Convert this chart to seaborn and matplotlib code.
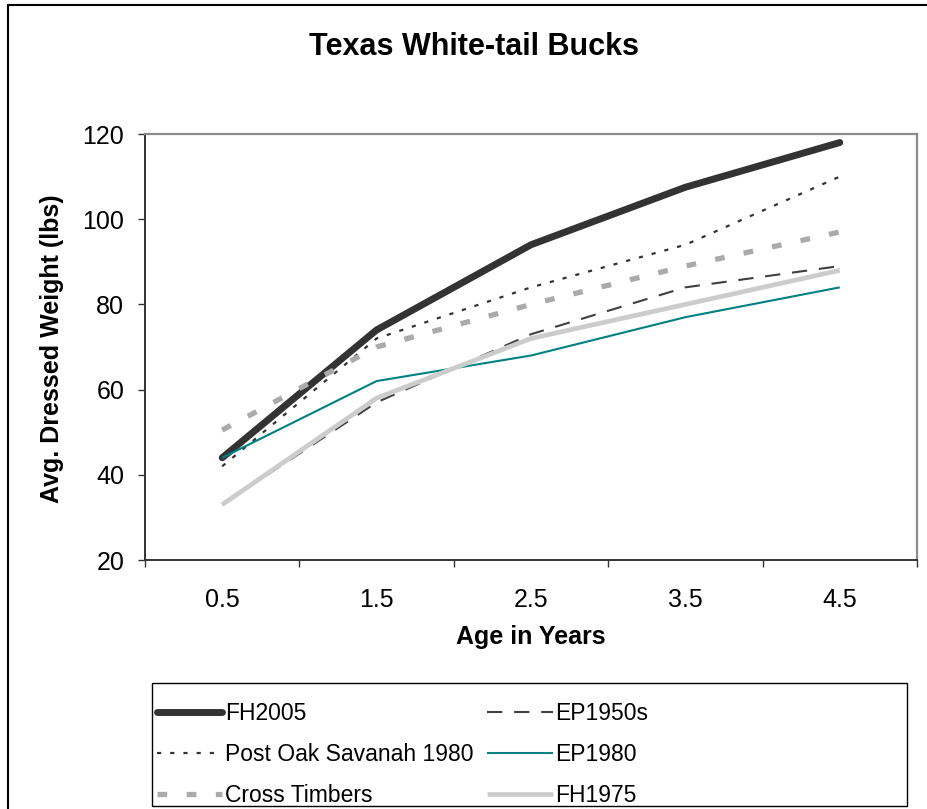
import matplotlib
matplotlib.use("Agg")
import matplotlib.pyplot as plt
import seaborn as sns
import numpy as np
from matplotlib.patches import Rectangle
from matplotlib.lines import Line2D

# ---- data ----
ages = [0.5, 1.5, 2.5, 3.5, 4.5]
age_labels = ["0.5", "1.5", "2.5", "3.5", "4.5"]
fh2005 = [44, 74, 94, 107.5, 118]
post_oak_1980 = [42, 72, 84, 94, 110]
cross_timbers = [50.5, 70, 80, 89, 97]
ep1950s = [33, 57, 73, 84, 89]
ep1980 = [44, 62, 68, 77, 84]
fh1975 = [33, 58, 72, 80, 88]
series_names = ["FH2005", "Post Oak Savanah 1980", "Cross Timbers",
                "EP1950s", "EP1980", "FH1975"]
series_values = [fh2005, post_oak_1980, cross_timbers, ep1950s, ep1980, fh1975]

# ---- styles ----
styles = {
    "FH2005": dict(color="#333333", lw=5.0, dashes=None, cap="round"),
    "Post Oak Savanah 1980": dict(color="#333333", lw=1.6, dashes=(3.0, 6.5), cap="butt"),
    "Cross Timbers": dict(color="#aaaaaa", lw=3.8, dashes=(7.0, 14.0), cap="butt"),
    "EP1950s": dict(color="#404040", lw=1.5, dashes=(11.0, 8.5), cap="butt"),
    "EP1980": dict(color="#008080", lw=1.5, dashes=None, cap="butt"),
    "FH1975": dict(color="#cccccc", lw=3.4, dashes=None, cap="butt"),
}

sns.set_style("white")
plt.rcParams["font.family"] = ["Liberation Sans", "DejaVu Sans"]
plt.rcParams["lines.scale_dashes"] = False
plt.rcParams["text.color"] = "black"
plt.rcParams["axes.labelcolor"] = "black"
plt.rcParams["xtick.color"] = "black"
plt.rcParams["ytick.color"] = "black"

W, H = 928, 809
fig = plt.figure(figsize=(W / 100, H / 100), dpi=100)
L, R, T, B = 145, 917, 134, 560
ax = fig.add_axes([L / W, 1 - B / H, (R - L) / W, (B - T) / H])

handles = []
for i, (name, vals) in enumerate(zip(series_names, series_values)):
    st = styles[name]
    sns.lineplot(x=ages, y=vals, ax=ax, color=st["color"], linewidth=st["lw"],
                 zorder=2 + i, solid_capstyle=st["cap"], dash_capstyle="butt",
                 solid_joinstyle="round")
    line = ax.get_lines()[-1]
    if st["dashes"] is not None:
        line.set_dashes(st["dashes"])
    h = Line2D([], [], color=st["color"], linewidth=st["lw"],
               solid_capstyle=st["cap"], dash_capstyle="butt")
    if st["dashes"] is not None:
        h.set_dashes(st["dashes"])
    handles.append(h)

ax.set_xlim(0, 5)
ax.set_ylim(20, 120)
ax.set_yticks([20, 40, 60, 80, 100, 120])
ax.set_xticks(ages)
ax.set_xticklabels(age_labels)
ax.set_xticks(np.arange(0, 6, 1), minor=True)
ax.tick_params(axis="x", which="major", length=0, pad=20, labelsize=18, labelcolor="black")
ax.tick_params(axis="x", which="minor", length=5, width=1.0, direction="out",
               color="#333333", bottom=True)
ax.tick_params(axis="y", which="major", length=5, width=1.0, direction="out",
               pad=10, labelsize=18, color="#333333", left=True, labelcolor="black")

for s in ["top", "right"]:
    ax.spines[s].set_color("#8c8c8c")
    ax.spines[s].set_linewidth(1.6)
for s in ["left", "bottom"]:
    ax.spines[s].set_color("#333333")
    ax.spines[s].set_linewidth(1.4)

ax.set_xlabel("Age in Years", fontsize=18, fontweight="bold", color="black")
ax.set_ylabel("Avg. Dressed Weight (lbs)", fontsize=18, fontweight="bold", color="black")
ax.xaxis.label.set_va("center")
ax.yaxis.label.set_va("center")
ax.xaxis.set_label_coords(0.5, (B - 637) / (B - T))
ax.yaxis.set_label_coords((52 - L) / (R - L), (B - 349) / (B - T))

fig.text(474 / W, 1 - 47 / H, "Texas White-tail Bucks", ha="center", va="center",
         fontsize=22, fontweight="bold", color="black")

# legend box
fig.patches.append(Rectangle((152 / W, 1 - 806 / H), (907 - 152) / W, (806 - 683) / H,
                             transform=fig.transFigure, facecolor="white",
                             edgecolor="black", linewidth=1.0, zorder=0))
leg = fig.legend(handles, series_names, ncol=2, loc="upper left",
                 bbox_to_anchor=(157 / W, 1 - 702 / H), frameon=False,
                 fontsize=16.5, handlelength=2.85, handletextpad=0.12,
                 columnspacing=0.6, labelspacing=0.78, borderpad=0,
                 borderaxespad=0)
for t in leg.get_texts():
    t.set_color("black")

# figure frame (left and top edges visible)
fig.add_artist(Line2D([8 / W, 8 / W], [0, 1 - 5 / H], transform=fig.transFigure,
                      color="black", linewidth=1.5))
fig.add_artist(Line2D([8 / W, 1], [1 - 5 / H, 1 - 5 / H], transform=fig.transFigure,
                      color="black", linewidth=1.5))

fig.savefig("out.png", dpi=100)
